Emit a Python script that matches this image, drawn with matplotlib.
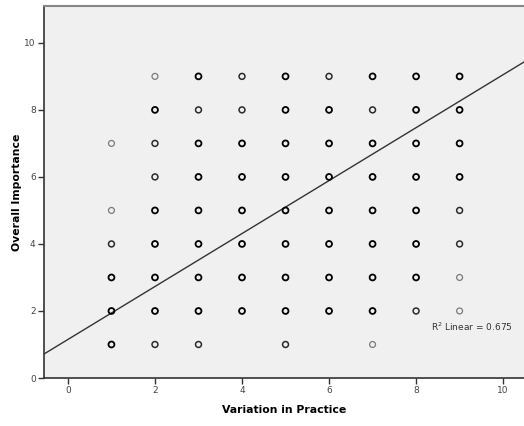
import numpy as np
import matplotlib
matplotlib.use("Agg")
import matplotlib.pyplot as plt

# puntos de la nube (x, y) y cuantas observaciones se solapan en cada uno
x_vals = [1, 1, 1, 1, 1, 1,
          2, 2, 2, 2, 2, 2, 2, 2, 2,
          3, 3, 3, 3, 3, 3, 3, 3, 3,
          4, 4, 4, 4, 4, 4, 4, 4,
          5, 5, 5, 5, 5, 5, 5, 5, 5,
          6, 6, 6, 6, 6, 6, 6, 6,
          7, 7, 7, 7, 7, 7, 7, 7, 7,
          8, 8, 8, 8, 8, 8, 8, 8,
          9, 9, 9, 9, 9, 9, 9, 9]
y_vals = [7, 5, 4, 3, 2, 1,
          9, 8, 7, 6, 5, 4, 3, 2, 1,
          9, 8, 7, 6, 5, 4, 3, 2, 1,
          9, 8, 7, 6, 5, 4, 3, 2,
          9, 8, 7, 6, 5, 4, 3, 2, 1,
          9, 8, 7, 6, 5, 4, 3, 2,
          9, 8, 7, 6, 5, 4, 3, 2, 1,
          9, 8, 7, 6, 5, 4, 3, 2,
          9, 8, 7, 6, 5, 4, 3, 2]
counts = [1, 1, 2, 3, 3, 3,
          1, 3, 2, 2, 3, 3, 3, 3, 2,
          3, 2, 3, 3, 3, 3, 3, 3, 2,
          2, 2, 3, 3, 3, 3, 3, 3,
          3, 3, 3, 3, 3, 3, 3, 3, 2,
          2, 3, 3, 3, 3, 3, 3, 3,
          3, 2, 3, 3, 3, 3, 3, 3, 1,
          3, 3, 3, 3, 3, 3, 3, 2,
          3, 3, 3, 3, 2, 2, 1, 1]

# recta de ajuste
intercepto = 1.15
pendiente = 0.79
r2 = 0.675

colores = {1: "#7a7a7a", 2: "#2a2a2a", 3: "#000000"}
grosor = {1: 0.9, 2: 1.1, 3: 1.3}

fig = plt.figure(figsize=(5.24, 4.26), dpi=100)
ax = fig.add_axes([44 / 524, 48 / 426, 480 / 524, 372 / 426])
ax.set_facecolor("#f0f0f0")

ec = [colores[c] for c in counts]
lw = [grosor[c] for c in counts]
ax.scatter(x_vals, y_vals, s=18, facecolors="none", edgecolors=ec, linewidths=lw, zorder=3)

ax.axline((0, intercepto), slope=pendiente, color="#333333", linewidth=1.0, zorder=2)

ax.text(8.34, 1.52, f"R$^2$ Linear = {r2}", fontsize=6.5, color="#333333",
        ha="left", va="center")

ax.set_xlim(-0.55, 10.48)
ax.set_ylim(0, 11.1)
ax.set_xticks([0, 2, 4, 6, 8, 10])
ax.set_yticks([0, 2, 4, 6, 8, 10])
ax.tick_params(axis="both", labelsize=6.5, labelcolor="#444444", length=4, width=1,
               color="#333333", pad=2)

ax.spines["right"].set_visible(False)
ax.spines["top"].set_color("#888888")
ax.spines["top"].set_linewidth(1.5)
ax.spines["left"].set_color("#333333")
ax.spines["bottom"].set_color("#333333")
ax.spines["left"].set_linewidth(1.2)
ax.spines["bottom"].set_linewidth(1.2)

ax.set_xlabel("Variation in Practice", fontsize=7.8, fontweight="bold")
ax.set_ylabel("Overall Importance", fontsize=7.8, fontweight="bold")
ax.xaxis.set_label_coords(0.5, -0.072)
ax.yaxis.set_label_coords(-0.046, 0.5)

fig.savefig("out.png", dpi=100)
